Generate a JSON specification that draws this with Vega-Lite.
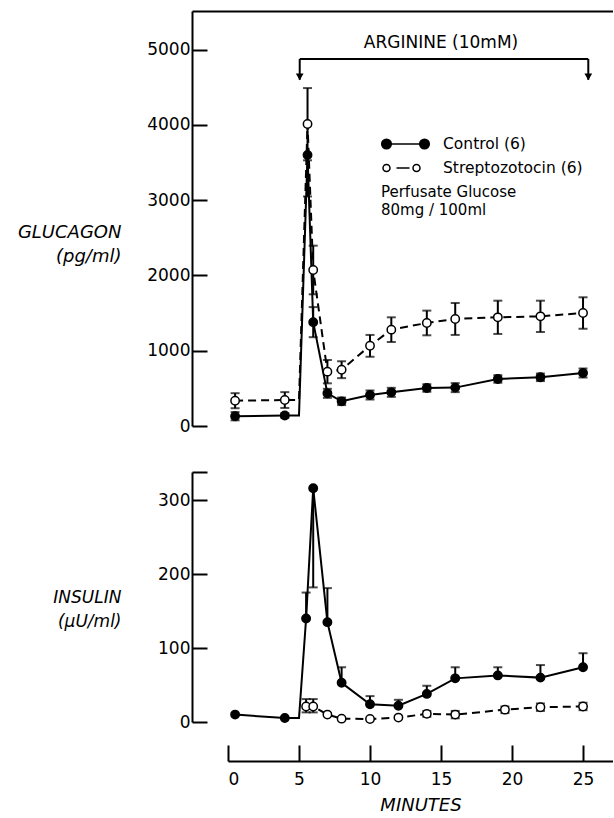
{
  "$schema": "https://vega.github.io/schema/vega-lite/v6.json",
  "background": "white",
  "padding": {"left": 17, "top": 11, "right": 0, "bottom": 0},
  "spacing": 46,
  "bounds": "flush",
  "resolve": {
    "scale": {"fill": "independent", "shape": "independent"},
    "legend": {"fill": "independent", "shape": "independent"}
  },
  "config": {
    "view": {"stroke": null},
    "font": "DejaVu Sans",
    "axis": {
      "domainColor": "black", "domainWidth": 2, "tickColor": "black", "tickWidth": 2,
      "labelColor": "black", "titleColor": "black", "grid": false,
      "labelFont": "DejaVu Sans", "labelFontSize": 17,
      "titleFont": "DejaVu Sans", "titleFontStyle": "italic", "titleFontWeight": "normal", "titleFontSize": 17
    },
    "text": {"font": "DejaVu Sans", "color": "black"}
  },
  "datasets": {
    "glucagon": [
      {"series": "Control (6)", "t": 0.5, "v": 130, "lo": 75, "hi": 185, "sampled": true},
      {"series": "Control (6)", "t": 4, "v": 140, "lo": 110, "hi": 170, "sampled": true},
      {"series": "Control (6)", "t": 5, "v": 140, "lo": null, "hi": null, "sampled": false},
      {"series": "Control (6)", "t": 5.6, "v": 3600, "lo": 3050, "hi": 3600, "sampled": true},
      {"series": "Control (6)", "t": 6, "v": 1380, "lo": 1180, "hi": 1580, "sampled": true},
      {"series": "Control (6)", "t": 7, "v": 434, "lo": 374, "hi": 494, "sampled": true},
      {"series": "Control (6)", "t": 8, "v": 328, "lo": 278, "hi": 378, "sampled": true},
      {"series": "Control (6)", "t": 10, "v": 412, "lo": 352, "hi": 472, "sampled": true},
      {"series": "Control (6)", "t": 11.5, "v": 447, "lo": 387, "hi": 507, "sampled": true},
      {"series": "Control (6)", "t": 14, "v": 505, "lo": 455, "hi": 555, "sampled": true},
      {"series": "Control (6)", "t": 16, "v": 510, "lo": 450, "hi": 570, "sampled": true},
      {"series": "Control (6)", "t": 19, "v": 625, "lo": 575, "hi": 675, "sampled": true},
      {"series": "Control (6)", "t": 22, "v": 647, "lo": 597, "hi": 697, "sampled": true},
      {"series": "Control (6)", "t": 25, "v": 704, "lo": 644, "hi": 764, "sampled": true},
      {"series": "Streptozotocin (6)", "t": 0.5, "v": 336, "lo": 236, "hi": 436, "sampled": true},
      {"series": "Streptozotocin (6)", "t": 4, "v": 345, "lo": 240, "hi": 450, "sampled": true},
      {"series": "Streptozotocin (6)", "t": 5, "v": 345, "lo": null, "hi": null, "sampled": false},
      {"series": "Streptozotocin (6)", "t": 5.6, "v": 4013, "lo": 3530, "hi": 4490, "sampled": true},
      {"series": "Streptozotocin (6)", "t": 6, "v": 2073, "lo": 1750, "hi": 2396, "sampled": true},
      {"series": "Streptozotocin (6)", "t": 7, "v": 722, "lo": 567, "hi": 877, "sampled": true},
      {"series": "Streptozotocin (6)", "t": 8, "v": 748, "lo": 636, "hi": 860, "sampled": true},
      {"series": "Streptozotocin (6)", "t": 10, "v": 1067, "lo": 920, "hi": 1210, "sampled": true},
      {"series": "Streptozotocin (6)", "t": 11.5, "v": 1280, "lo": 1116, "hi": 1444, "sampled": true},
      {"series": "Streptozotocin (6)", "t": 14, "v": 1369, "lo": 1205, "hi": 1533, "sampled": true},
      {"series": "Streptozotocin (6)", "t": 16, "v": 1422, "lo": 1210, "hi": 1634, "sampled": true},
      {"series": "Streptozotocin (6)", "t": 19, "v": 1444, "lo": 1223, "hi": 1665, "sampled": true},
      {"series": "Streptozotocin (6)", "t": 22, "v": 1457, "lo": 1249, "hi": 1665, "sampled": true},
      {"series": "Streptozotocin (6)", "t": 25, "v": 1501, "lo": 1292, "hi": 1710, "sampled": true}
    ],
    "insulin": [
      {"series": "Control (6)", "t": 0.5, "v": 10, "lo": null, "hi": null, "sampled": true},
      {"series": "Control (6)", "t": 4, "v": 5.4, "lo": null, "hi": null, "sampled": true},
      {"series": "Control (6)", "t": 5, "v": 5.4, "lo": null, "hi": null, "sampled": false},
      {"series": "Control (6)", "t": 5.5, "v": 140, "lo": 140, "hi": 175, "sampled": true},
      {"series": "Control (6)", "t": 6, "v": 316, "lo": 182, "hi": 316, "sampled": true},
      {"series": "Control (6)", "t": 7, "v": 135, "lo": 135, "hi": 181, "sampled": true},
      {"series": "Control (6)", "t": 8, "v": 53, "lo": 53, "hi": 74, "sampled": true},
      {"series": "Control (6)", "t": 10, "v": 24, "lo": 24, "hi": 35, "sampled": true},
      {"series": "Control (6)", "t": 12, "v": 22, "lo": 22, "hi": 30, "sampled": true},
      {"series": "Control (6)", "t": 14, "v": 38, "lo": 38, "hi": 49, "sampled": true},
      {"series": "Control (6)", "t": 16, "v": 59, "lo": 59, "hi": 74, "sampled": true},
      {"series": "Control (6)", "t": 19, "v": 63, "lo": 63, "hi": 74, "sampled": true},
      {"series": "Control (6)", "t": 22, "v": 60, "lo": 60, "hi": 77, "sampled": true},
      {"series": "Control (6)", "t": 25, "v": 74, "lo": 74, "hi": 93, "sampled": true},
      {"series": "Streptozotocin (6)", "t": 5.5, "v": 21, "lo": 13, "hi": 31, "sampled": true},
      {"series": "Streptozotocin (6)", "t": 6, "v": 21, "lo": 13, "hi": 31, "sampled": true},
      {"series": "Streptozotocin (6)", "t": 7, "v": 10, "lo": null, "hi": null, "sampled": true},
      {"series": "Streptozotocin (6)", "t": 8, "v": 4.5, "lo": null, "hi": null, "sampled": true},
      {"series": "Streptozotocin (6)", "t": 10, "v": 4, "lo": null, "hi": null, "sampled": true},
      {"series": "Streptozotocin (6)", "t": 12, "v": 6, "lo": null, "hi": null, "sampled": true},
      {"series": "Streptozotocin (6)", "t": 14, "v": 11, "lo": 7, "hi": 15, "sampled": true},
      {"series": "Streptozotocin (6)", "t": 16, "v": 10, "lo": 5, "hi": 15, "sampled": true},
      {"series": "Streptozotocin (6)", "t": 19.5, "v": 16.7, "lo": 12, "hi": 21, "sampled": true},
      {"series": "Streptozotocin (6)", "t": 22, "v": 20, "lo": 15, "hi": 25, "sampled": true},
      {"series": "Streptozotocin (6)", "t": 25, "v": 21, "lo": 16, "hi": 26, "sampled": true}
    ],
    "notes": [
      {"kind": "title", "t": 15.0, "v": 5090, "label": "ARGININE (10mM)"},
      {"kind": "glucose", "t": 10.77, "v": 3110, "label": "Perfusate Glucose"},
      {"kind": "glucose", "t": 10.77, "v": 2870, "label": "80mg / 100ml"}
    ],
    "bracket": [
      {"t": 5.05, "t2": 25.37, "v": 4876}
    ],
    "arrows": [
      {"t": 5.05, "v": 4876, "v2": 4600, "tip": 4640},
      {"t": 25.37, "v": 4876, "v2": 4600, "tip": 4640}
    ]
  },
  "vconcat": [
    {
      "width": 421,
      "height": 415,
      "data": {"name": "glucagon"},
      "encoding": {
        "x": {"field": "t", "type": "quantitative",
          "scale": {"domain": [-2.535, 27.11], "nice": false, "zero": false},
          "axis": {"orient": "top", "ticks": false, "labels": false, "title": null, "domain": true}},
        "y": {"field": "v", "type": "quantitative",
          "scale": {"domain": [0, 5514], "nice": false},
          "axis": {"values": [0, 1000, 2000, 3000, 4000, 5000], "format": "d", "tickSize": -15, "labelPadding": 17,
            "title": ["GLUCAGON", "(pg/ml)"], "titleFontSize": 18, "titleAngle": 0, "titleAlign": "right", "titleBaseline": "top",
            "titleX": -71, "titleY": 212, "titleLineHeight": 24}}
      },
      "layer": [
        {
          "transform": [{"filter": "datum.series == 'Control (6)'"}],
          "mark": {"type": "line", "color": "black", "strokeWidth": 2},
          "encoding": {}
        },
        {
          "transform": [{"filter": "datum.series == 'Streptozotocin (6)'"}],
          "mark": {"type": "line", "color": "black", "strokeWidth": 2, "strokeDash": [8, 5]},
          "encoding": {}
        },
        {
          "transform": [{"filter": "datum.lo != null"}],
          "mark": {"type": "errorbar", "orient": "vertical", "ticks": true, "size": 9, "thickness": 2, "color": "black"},
          "encoding": {
            "y": {"field": "lo", "type": "quantitative"},
            "y2": {"field": "hi"}
          }
        },
        {
          "transform": [{"filter": "datum.sampled"}],
          "mark": {"type": "point", "shape": "circle", "size": 70, "stroke": "black", "strokeWidth": 1.5, "opacity": 1},
          "encoding": {
            "fill": {"field": "series", "type": "nominal",
              "scale": {"domain": ["Control (6)", "Streptozotocin (6)"], "range": ["black", "white"]},
              "legend": {"orient": "none", "legendX": 189, "legendY": 122, "title": null, "padding": 0,
                "symbolSize": 400, "symbolStrokeColor": "black", "symbolStrokeWidth": 1.5,
                "labelOffset": 40, "labelFontSize": 15.5, "labelFont": "DejaVu Sans", "labelColor": "black", "rowPadding": 4}}
          }
        },
        {
          "transform": [{"filter": "false"}],
          "mark": {"type": "point", "stroke": "black", "strokeWidth": 1.5, "opacity": 1},
          "encoding": {
            "fill": {"field": "series", "type": "nominal",
              "scale": {"domain": ["Control (6)", "Streptozotocin (6)"], "range": ["black", "white"]},
              "legend": {"orient": "none", "legendX": 189, "legendY": 122, "title": null, "padding": 0,
                "symbolSize": 400, "symbolStrokeColor": "black", "symbolStrokeWidth": 1.5,
                "labelOffset": 40, "labelFontSize": 15.5, "labelFont": "DejaVu Sans", "labelColor": "black", "rowPadding": 4}},
            "shape": {"field": "series", "type": "nominal",
              "scale": {"domain": ["Control (6)", "Streptozotocin (6)"],
                "range": ["M-0.55,0L3.25,0M-1.03,0A0.48,0.48,0,1,0,-0.07,0A0.48,0.48,0,1,0,-1.03,0ZM2.77,0A0.48,0.48,0,1,0,3.73,0A0.48,0.48,0,1,0,2.77,0Z",
                          "M0.45,0L1.75,0M-0.9,0A0.35,0.35,0,1,0,-0.2,0A0.35,0.35,0,1,0,-0.9,0ZM2.1,0A0.35,0.35,0,1,0,2.8,0A0.35,0.35,0,1,0,2.1,0Z"]},
              "legend": {"orient": "none", "legendX": 189, "legendY": 122, "title": null, "padding": 0,
                "symbolSize": 400, "symbolStrokeColor": "black", "symbolStrokeWidth": 1.5,
                "labelOffset": 40, "labelFontSize": 15.5, "labelFont": "DejaVu Sans", "labelColor": "black", "rowPadding": 4}}
          }
        },
        {
          "data": {"name": "notes"},
          "transform": [{"filter": "datum.kind == 'title'"}],
          "mark": {"type": "text", "fontSize": 17, "align": "center", "baseline": "middle"},
          "encoding": {"text": {"field": "label"}}
        },
        {
          "data": {"name": "notes"},
          "transform": [{"filter": "datum.kind == 'glucose'"}],
          "mark": {"type": "text", "fontSize": 15, "align": "left", "baseline": "middle"},
          "encoding": {"text": {"field": "label"}}
        },
        {
          "data": {"name": "bracket"},
          "mark": {"type": "rule", "color": "black", "strokeWidth": 2},
          "encoding": {"x2": {"field": "t2"}}
        },
        {
          "data": {"name": "arrows"},
          "mark": {"type": "rule", "color": "black", "strokeWidth": 2},
          "encoding": {"y2": {"field": "v2"}}
        },
        {
          "data": {"name": "arrows"},
          "mark": {"type": "point", "shape": "triangle-down", "size": 60, "filled": true, "color": "black", "opacity": 1},
          "encoding": {"y": {"field": "tip", "type": "quantitative"}}
        }
      ]
    },
    {
      "width": 421,
      "height": 250,
      "data": {"name": "insulin"},
      "encoding": {
        "x": {"field": "t", "type": "quantitative",
          "scale": {"domain": [0, 27.11], "range": [36, 421], "nice": false, "zero": false},
          "axis": {"orient": "bottom", "offset": 39, "values": [0, 5, 10, 15, 20, 25], "tickSize": -16, "labelPadding": 26,
            "title": "MINUTES", "titleFontSize": 18, "titlePadding": 9, "domain": true}},
        "y": {"field": "v", "type": "quantitative",
          "scale": {"domain": [0, 338], "nice": false},
          "axis": {"values": [0, 100, 200, 300, 338], "labelExpr": "datum.value > 300 ? '' : datum.label",
            "tickSize": -15, "labelPadding": 17,
            "title": ["INSULIN", "(μU/ml)"], "titleAngle": 0, "titleAlign": "right", "titleBaseline": "top",
            "titleX": -71, "titleY": 117, "titleLineHeight": 24}}
      },
      "layer": [
        {
          "transform": [{"filter": "datum.series == 'Control (6)'"}],
          "mark": {"type": "line", "color": "black", "strokeWidth": 2},
          "encoding": {}
        },
        {
          "transform": [{"filter": "datum.series == 'Streptozotocin (6)'"}],
          "mark": {"type": "line", "color": "black", "strokeWidth": 2, "strokeDash": [8, 5]},
          "encoding": {}
        },
        {
          "transform": [{"filter": "datum.lo != null"}],
          "mark": {"type": "errorbar", "orient": "vertical", "ticks": true, "size": 9, "thickness": 2, "color": "black"},
          "encoding": {
            "y": {"field": "lo", "type": "quantitative"},
            "y2": {"field": "hi"}
          }
        },
        {
          "transform": [{"filter": "datum.sampled"}],
          "mark": {"type": "point", "shape": "circle", "size": 70, "stroke": "black", "strokeWidth": 1.5, "opacity": 1},
          "encoding": {
            "fill": {"field": "series", "type": "nominal",
              "scale": {"domain": ["Control (6)", "Streptozotocin (6)"], "range": ["black", "white"]}, "legend": null}
          }
        }
      ]
    }
  ]
}
